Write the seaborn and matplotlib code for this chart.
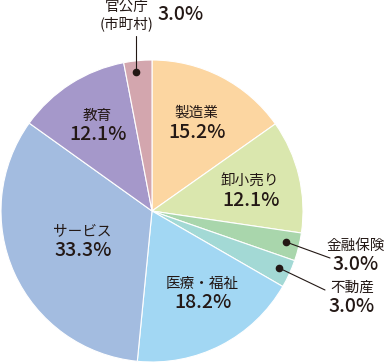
import numpy as np
import pandas as pd
import matplotlib
matplotlib.use("Agg")
import matplotlib.pyplot as plt
import seaborn as sns

labels = ["製造業", "卸小売り", "金融保険", "不動産", "医療・福祉", "サービス", "教育", "官公庁\n(市町村)"]
shares = [15.2, 12.1, 3.0, 3.0, 18.2, 33.3, 12.1, 3.0]
colors = ["#FCD6A1", "#DAE7AE", "#A9D6AC", "#A3D9D5", "#A2D7F3", "#A3BCE0", "#A598CA", "#D3A6AE"]

sns.set_theme(style="white")
plt.rcParams["font.family"] = ["Noto Sans CJK JP", "DejaVu Sans"]
txt = "#231815"
lab_fs = 10.5
pct_fs = 14

fig = plt.figure(figsize=(3.85, 3.64), dpi=100)
ax = fig.add_axes([0, 0, 1, 1])
H = 364
cx, cy, r = 152, H - 211, 151
ax.pie(shares, colors=colors, startangle=90, counterclock=False,
       center=(cx, cy), radius=r,
       wedgeprops=dict(edgecolor="white", linewidth=0.8))
ax.set_xlim(0, 385)
ax.set_ylim(0, H)
ax.set_aspect("equal")
ax.axis("off")

# labels inside wedges (pixel positions from top-left)
inside = {0: (196, 113), 1: (250, 182), 4: (202, 284), 5: (82, 231), 6: (97, 116)}
for i, (x, y) in inside.items():
    ax.text(x, H - y, labels[i], ha="center", va="center", fontsize=lab_fs, color=txt)
    ax.text(x + 1, H - y - 19, f"{shares[i]:.1f}%", ha="center", va="center",
            fontsize=pct_fs, color=txt, fontweight="medium")

# callouts for small slices
def callout(dot, end, lab, lx, ly, val):
    ax.plot([dot[0], end[0]], [H - dot[1], H - end[1]], color=txt, lw=0.8)
    ax.plot(dot[0], H - dot[1], "o", color=txt, ms=4.5)
    ax.text(lx, H - ly, lab, ha="center", va="center", fontsize=lab_fs, color=txt)
    ax.text(lx, H - ly - 18, f"{val:.1f}%", ha="center", va="center",
            fontsize=pct_fs, color=txt, fontweight="medium")

callout((286, 242), (330, 258), labels[2], 356, 246, shares[2])
callout((279, 268), (325, 290), labels[3], 352, 288, shares[3])

ax.plot([136, 136], [H - 72, H - 36], color=txt, lw=0.8)
ax.plot(136, H - 72, "o", color=txt, ms=4.5)
ax.text(127, H - 7, "官公庁", ha="center", va="center", fontsize=lab_fs, color=txt)
ax.text(127, H - 24, "(市町村)", ha="center", va="center", fontsize=lab_fs, color=txt)
ax.text(181, H - 15, f"{shares[7]:.1f}%", ha="center", va="center",
        fontsize=pct_fs, color=txt, fontweight="medium")

fig.savefig("out.png", dpi=100)
